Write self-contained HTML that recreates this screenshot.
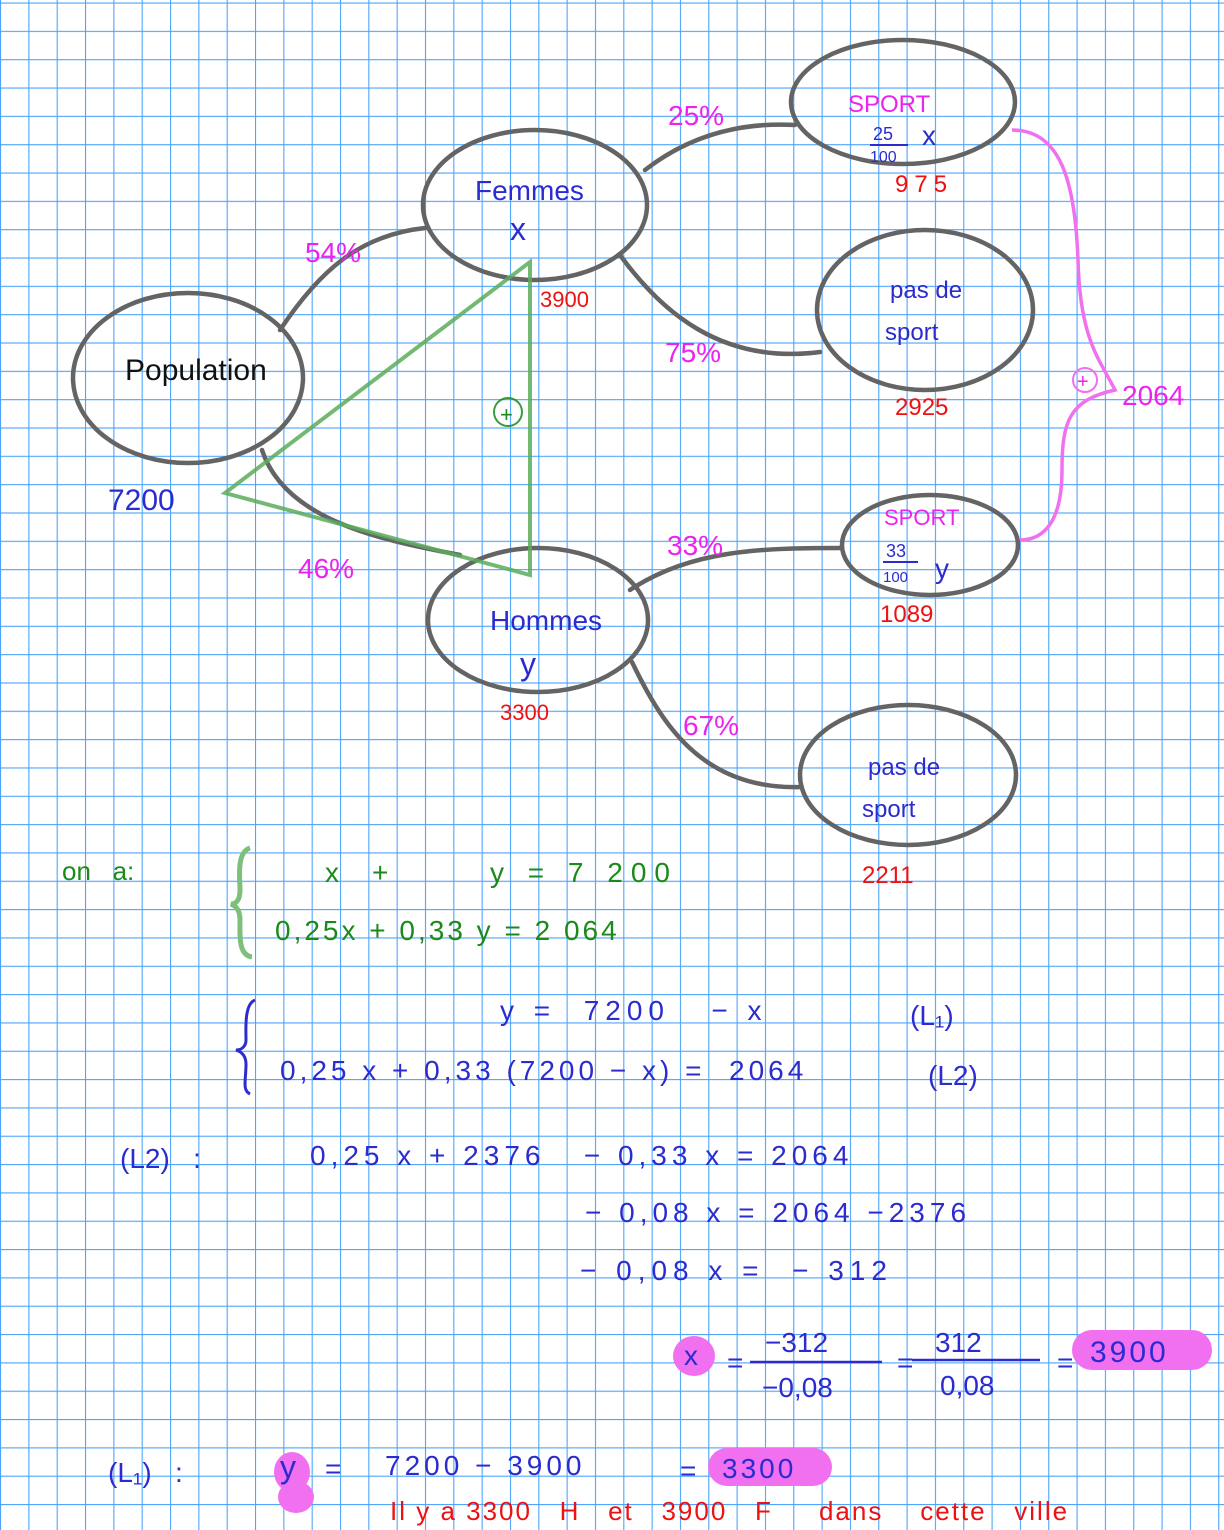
<!DOCTYPE html>
<html><head><meta charset="utf-8"><style>
html,body{margin:0;padding:0;background:#fff}
svg{display:block}
text{font-family:"Liberation Sans",sans-serif;white-space:pre}
.b{fill:#2b2bd0}.g{fill:#1a8a1a}.m{fill:#ee22ee}.r{fill:#ee1111}
</style></head><body>
<svg width="1224" height="1530" viewBox="0 0 1224 1530" xmlns="http://www.w3.org/2000/svg">
<defs>
<pattern id="grid" width="28.33" height="28.33" patternUnits="userSpaceOnUse" y="2.5">
<path d="M0 0H28.33M0 0V28.33" stroke="#4ea4fa" stroke-width="2.2" fill="none"/>
</pattern>
</defs>
<rect width="1224" height="1530" fill="#fff"/>
<rect width="1224" height="1530" fill="url(#grid)"/>

<g fill="none" stroke="#646464" stroke-width="4.5" stroke-linecap="round">
<ellipse cx="188" cy="378" rx="115" ry="85"/>
<ellipse cx="535" cy="205" rx="112" ry="75"/>
<ellipse cx="903" cy="102" rx="112" ry="62"/>
<ellipse cx="925" cy="310" rx="108" ry="80"/>
<ellipse cx="930" cy="545" rx="88" ry="50"/>
<ellipse cx="538" cy="620" rx="110" ry="72"/>
<ellipse cx="908" cy="775" rx="108" ry="70"/>
<path d="M280 330 C320 270 360 235 425 228"/>
<path d="M262 450 C285 520 380 540 460 555"/>
<path d="M645 170 C690 135 740 122 795 125"/>
<path d="M620 255 C660 310 720 365 820 352"/>
<path d="M630 590 C690 550 760 548 840 548"/>
<path d="M632 662 C660 720 700 790 800 787"/>
</g>
<g fill="none" stroke="#5aad5a" stroke-width="4" opacity="0.85">
<path d="M225 493 L530 262 L530 575 Z"/>
<circle cx="508" cy="412" r="14" stroke="#1a8a1a" stroke-width="2"/>
</g>
<text x="500" y="422" class="g" font-size="22">+</text>
<g fill="none" stroke="#f070f0" stroke-width="3.5">
<path d="M1012 130 C1060 130 1075 180 1078 260 C1080 340 1100 360 1115 390 C1070 400 1062 420 1062 470 C1062 520 1045 540 1020 540"/>
<circle cx="1085" cy="380" r="12" stroke-width="2"/>
</g>
<text x="1077" y="388" class="m" font-size="20">+</text>

<g font-size="28">
<text x="125" y="380" fill="#111" font-size="30">Population</text>
<text x="108" y="510" class="b" font-size="30">7200</text>
<text x="475" y="200" class="b">Femmes</text>
<text x="510" y="240" class="b" font-size="32">x</text>
<text x="540" y="307" class="r" font-size="22">3900</text>
<text x="305" y="262" class="m">54%</text>
<text x="298" y="578" class="m">46%</text>
<text x="668" y="125" class="m">25%</text>
<text x="665" y="362" class="m">75%</text>
<text x="667" y="555" class="m">33%</text>
<text x="683" y="735" class="m">67%</text>
<text x="848" y="112" class="m" font-size="24">SPORT</text>
<text x="873" y="140" class="b" font-size="18">25</text>
<line x1="870" y1="145" x2="908" y2="145" stroke="#2b2bd0" stroke-width="2"/>
<text x="870" y="162" class="b" font-size="16">100</text>
<text x="922" y="145" class="b">x</text>
<text x="895" y="192" class="r" font-size="24" letter-spacing="6">975</text>
<text x="890" y="298" class="b" font-size="24">pas de</text>
<text x="885" y="340" class="b" font-size="24">sport</text>
<text x="895" y="415" class="r" font-size="24">2925</text>
<text x="1122" y="405" class="m">2064</text>
<text x="884" y="525" class="m" font-size="22">SPORT</text>
<text x="886" y="557" class="b" font-size="18">33</text>
<line x1="883" y1="562" x2="918" y2="562" stroke="#2b2bd0" stroke-width="2"/>
<text x="883" y="582" class="b" font-size="15">100</text>
<text x="935" y="578" class="b">y</text>
<text x="880" y="622" class="r" font-size="24">1089</text>
<text x="490" y="630" class="b">Hommes</text>
<text x="520" y="675" class="b" font-size="32">y</text>
<text x="500" y="720" class="r" font-size="22">3300</text>
<text x="868" y="775" class="b" font-size="24">pas de</text>
<text x="862" y="817" class="b" font-size="24">sport</text>
<text x="862" y="883" class="r" font-size="24">2211</text>

<text x="62" y="880" class="g" font-size="26">on   a:</text>
<path d="M250 848 C236 852 240 880 240 890 C240 900 236 904 231 904 C236 906 240 910 240 920 C240 935 238 955 252 957" fill="none" stroke="#7cc07c" stroke-width="5"/>
<text x="325" y="882" class="g">x</text><text x="372" y="882" class="g">+</text>
<text x="490" y="882" class="g" letter-spacing="8">y = 7 200</text>
<text x="275" y="940" class="g" letter-spacing="3">0,25x + 0,33 y = 2 064</text>
<path d="M255 1000 C244 1004 246 1030 246 1040 C246 1046 242 1050 236 1050 C242 1052 246 1056 246 1064 C246 1080 242 1090 250 1094" fill="none" stroke="#2b2bd0" stroke-width="3"/>
<text x="500" y="1020" class="b" letter-spacing="6">y =  7200   − x</text>
<text x="910" y="1025" class="b">(L₁)</text>
<text x="280" y="1080" class="b" letter-spacing="4">0,25 x + 0,33 (7200 − x) =  2064</text>
<text x="928" y="1085" class="b">(L2)</text>
<text x="120" y="1168" class="b">(L2)   :</text>
<text x="310" y="1165" class="b" letter-spacing="5">0,25 x + 2376   − 0,33 x = 2064</text>
<text x="585" y="1222" class="b" letter-spacing="5">− 0,08 x = 2064 −2376</text>
<text x="580" y="1280" class="b" letter-spacing="6">− 0,08 x =  − 312</text>
<ellipse cx="694" cy="1356" rx="21" ry="20" fill="#f070f0"/>
<text x="684" y="1365" class="b">x</text>
<text x="727" y="1372" class="b">=</text>
<text x="765" y="1352" class="b">−312</text>
<line x1="750" y1="1362" x2="882" y2="1362" stroke="#2b2bd0" stroke-width="2.5"/>
<text x="762" y="1397" class="b">−0,08</text>
<text x="897" y="1372" class="b">=</text>
<text x="935" y="1352" class="b">312</text>
<line x1="912" y1="1360" x2="1040" y2="1360" stroke="#2b2bd0" stroke-width="2.5"/>
<text x="940" y="1395" class="b">0,08</text>
<text x="1057" y="1372" class="b">=</text>
<rect x="1072" y="1330" width="140" height="40" rx="20" fill="#f070f0"/>
<text x="1090" y="1362" class="b" font-size="30" letter-spacing="3">3900</text>
<text x="108" y="1482" class="b">(L₁)   :</text>
<ellipse cx="292" cy="1472" rx="18" ry="20" fill="#f070f0"/>
<ellipse cx="296" cy="1497" rx="18" ry="16" fill="#f070f0"/>
<text x="280" y="1478" class="b" font-size="32">y</text>
<text x="325" y="1478" class="b">=</text>
<text x="385" y="1475" class="b" letter-spacing="4">7200 − 3900</text>
<text x="680" y="1480" class="b">=</text>
<rect x="708" y="1448" width="124" height="38" rx="19" fill="#f070f0"/>
<text x="722" y="1478" class="b" letter-spacing="3">3300</text>
<text x="390" y="1520" class="r" font-size="26" letter-spacing="2">Il y a 3300   H   et   3900   F     dans    cette   ville</text>
</g>
</svg>
</body></html>
